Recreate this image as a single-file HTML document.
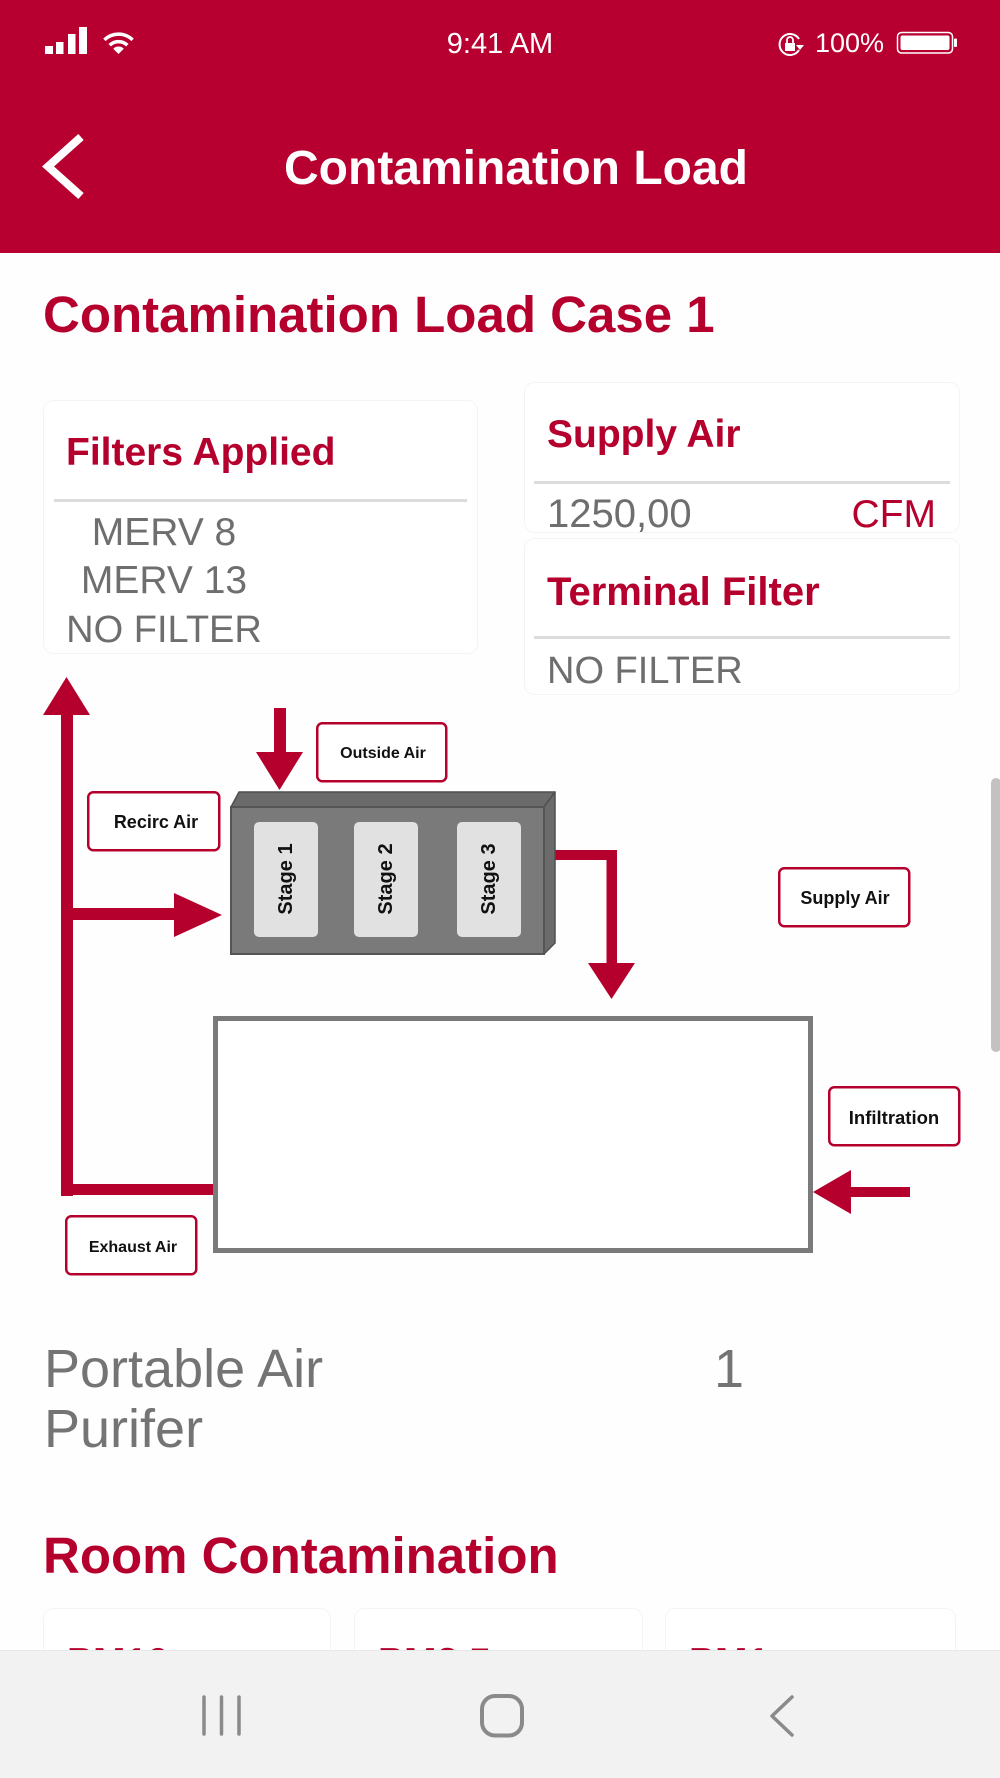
<!DOCTYPE html>
<html>
<head>
<meta charset="utf-8">
<style>
  html, body { margin: 0; padding: 0; background: #fefefe; }
  body { width: 1000px; height: 1778px; overflow: hidden; }
  svg { display: block; }
  text { font-family: "Liberation Sans", Arial, sans-serif; }
</style>
</head>
<body>
<svg width="1000" height="1778" viewBox="0 0 1000 1778" xmlns="http://www.w3.org/2000/svg">
  <!-- page background -->
  <rect x="0" y="0" width="1000" height="1778" fill="#fefefe"/>

  <!-- Header -->
  <rect x="0" y="0" width="1000" height="253" fill="#b70030"/>

  <!-- signal bars -->
  <rect x="45" y="46" width="8" height="8" fill="#fff"/>
  <rect x="56" y="42" width="7.5" height="12" fill="#fff"/>
  <rect x="68" y="34" width="7.5" height="20" fill="#fff"/>
  <rect x="79" y="27" width="8" height="27" fill="#fff"/>
  <!-- wifi -->
  <path d="M104.4 39.9 A20 20 0 0 1 132.6 39.9" fill="none" stroke="#fff" stroke-width="3.5"/>
  <path d="M109.7 45.2 A12.5 12.5 0 0 1 127.3 45.2" fill="none" stroke="#fff" stroke-width="3.5"/>
  <path d="M118.5 54 L113.2 48.7 A7.5 7.5 0 0 1 123.8 48.7 Z" fill="#fff"/>

  <text x="500" y="53" font-size="29" fill="#fff" text-anchor="middle">9:41 AM</text>

  <!-- rotation lock icon -->
  <path d="M799 39 A10.5 10.5 0 1 0 799 50" fill="none" stroke="#fff" stroke-width="2"/>
  <polygon points="796,45 804,45 800,50" fill="#fff"/>
  <rect x="785" y="43" width="10" height="8" fill="#fff"/>
  <path d="M787 43 V40 A3 3 0 0 1 793 40 V43" fill="none" stroke="#fff" stroke-width="1.8"/>
  <text x="815" y="52" font-size="27" fill="#fff">100%</text>
  <!-- battery -->
  <rect x="897.5" y="32.5" width="55" height="20.5" rx="4" fill="none" stroke="#fff" stroke-width="1.5"/>
  <rect x="900.5" y="35.5" width="49" height="14.5" rx="2" fill="#fff"/>
  <rect x="954" y="38.5" width="3" height="8.5" rx="1" fill="#fff"/>

  <!-- back chevron -->
  <polyline points="81,137 48,166.5 81,196" fill="none" stroke="#fff" stroke-width="8"/>
  <text x="516" y="184" font-size="48" font-weight="bold" fill="#fff" text-anchor="middle">Contamination Load</text>

  <!-- Section title -->
  <text x="43" y="332" font-size="51" font-weight="bold" fill="#b5002e">Contamination Load Case 1</text>

  <!-- Left card -->
  <rect x="43.5" y="400.5" width="434" height="253" rx="10" fill="#fff" stroke="#f4f4f4" stroke-width="1"/>
  <text x="66" y="465" font-size="39" font-weight="bold" fill="#b5002e">Filters Applied</text>
  <rect x="54" y="499" width="413" height="3" fill="#dcdcdc"/>
  <text x="164" y="545" font-size="39" fill="#6e6e6e" text-anchor="middle">MERV 8</text>
  <text x="164" y="593" font-size="39" fill="#6e6e6e" text-anchor="middle">MERV 13</text>
  <text x="164" y="642" font-size="38" fill="#6e6e6e" text-anchor="middle">NO FILTER</text>

  <!-- Right card 1 -->
  <rect x="524.5" y="382.5" width="435" height="150" rx="10" fill="#fff" stroke="#f4f4f4" stroke-width="1"/>
  <text x="547" y="447" font-size="39" font-weight="bold" fill="#b5002e">Supply Air</text>
  <rect x="534" y="481" width="416" height="3" fill="#dcdcdc"/>
  <text x="547" y="527" font-size="40" fill="#6e6e6e">1250,00</text>
  <text x="936" y="527" font-size="39" fill="#b5002e" text-anchor="end">CFM</text>

  <!-- Right card 2 -->
  <rect x="524.5" y="538.5" width="435" height="156" rx="10" fill="#fff" stroke="#f4f4f4" stroke-width="1"/>
  <text x="547" y="605" font-size="40" font-weight="bold" fill="#b5002e">Terminal Filter</text>
  <rect x="534" y="636" width="416" height="3" fill="#dcdcdc"/>
  <text x="547" y="683" font-size="38" fill="#6e6e6e">NO FILTER</text>

  <!-- ===== Diagram ===== -->
  <!-- left vertical return line with up arrow -->
  <rect x="61" y="714" width="12" height="482" fill="#b5002e"/>
  <polygon points="43,715 90,715 66.5,677" fill="#b5002e"/>
  <!-- recirc branch to filter -->
  <rect x="61" y="908" width="115" height="12" fill="#b5002e"/>
  <polygon points="174,893 174,937 222,915" fill="#b5002e"/>
  <!-- exhaust horizontal -->
  <rect x="61" y="1184" width="153" height="11" fill="#b5002e"/>

  <!-- outside air arrow -->
  <rect x="274" y="708" width="12" height="46" fill="#b5002e"/>
  <polygon points="256,752 303,752 279.5,790" fill="#b5002e"/>

  <!-- supply arrow -->
  <rect x="555" y="850" width="62" height="10" fill="#b5002e"/>
  <rect x="606.5" y="850" width="10.5" height="115" fill="#b5002e"/>
  <polygon points="588,963 635,963 611.5,999" fill="#b5002e"/>

  <!-- infiltration arrow -->
  <polygon points="813,1192 851,1170 851,1214" fill="#b5002e"/>
  <rect x="850" y="1187" width="60" height="10" fill="#b5002e"/>

  <!-- room -->
  <rect x="215.5" y="1018.5" width="595" height="232" fill="#fff" stroke="#7a7a7a" stroke-width="5"/>

  <!-- filter unit 3D -->
  <polygon points="231,807 239,792 555,792 544,807" fill="#6b6b6b" stroke="#4f4f4f" stroke-width="1.5" stroke-linejoin="round"/>
  <polygon points="544,807 555,792 555,943 544,954" fill="#6b6b6b" stroke="#4f4f4f" stroke-width="1.5" stroke-linejoin="round"/>
  <rect x="231" y="807" width="313" height="147" fill="#7a7a7a" stroke="#555" stroke-width="2"/>
  <rect x="254" y="822" width="64" height="115" rx="5" fill="#e1e1e1"/>
  <rect x="354" y="822" width="64" height="115" rx="5" fill="#e1e1e1"/>
  <rect x="457" y="822" width="64" height="115" rx="5" fill="#e1e1e1"/>
  <text transform="translate(286,879) rotate(-90)" x="0" y="6" font-size="20" font-weight="bold" fill="#111" text-anchor="middle">Stage 1</text>
  <text transform="translate(386,879) rotate(-90)" x="0" y="6" font-size="20" font-weight="bold" fill="#111" text-anchor="middle">Stage 2</text>
  <text transform="translate(489,879) rotate(-90)" x="0" y="6" font-size="20" font-weight="bold" fill="#111" text-anchor="middle">Stage 3</text>

  <!-- labels -->
  <rect x="317.25" y="723.25" width="129" height="58" rx="5" fill="#fff" stroke="#b5002e" stroke-width="2.5"/>
  <text x="383" y="758" font-size="16" font-weight="bold" fill="#111" text-anchor="middle">Outside Air</text>

  <rect x="88.25" y="792.25" width="131" height="58" rx="5" fill="#fff" stroke="#b5002e" stroke-width="2.5"/>
  <text x="156" y="828" font-size="18" font-weight="bold" fill="#111" text-anchor="middle">Recirc Air</text>

  <rect x="779.25" y="868.25" width="130" height="58" rx="5" fill="#fff" stroke="#b5002e" stroke-width="2.5"/>
  <text x="845" y="904" font-size="18" font-weight="bold" fill="#111" text-anchor="middle">Supply Air</text>

  <rect x="829.25" y="1087.25" width="130" height="58" rx="5" fill="#fff" stroke="#b5002e" stroke-width="2.5"/>
  <text x="894" y="1124" font-size="18.5" font-weight="bold" fill="#111" text-anchor="middle">Infiltration</text>

  <rect x="66.25" y="1216.25" width="130" height="58" rx="5" fill="#fff" stroke="#b5002e" stroke-width="2.5"/>
  <text x="133" y="1252" font-size="16" font-weight="bold" fill="#111" text-anchor="middle">Exhaust Air</text>

  <!-- scroll indicator -->
  <rect x="991" y="778" width="10" height="274" rx="5" fill="#c2c2c2"/>

  <!-- Portable Air Purifer -->
  <text x="44" y="1387" font-size="54" fill="#747474">Portable Air</text>
  <text x="44" y="1447" font-size="54" fill="#747474">Purifer</text>
  <text x="729" y="1387" font-size="54" fill="#747474" text-anchor="middle">1</text>

  <!-- Room Contamination -->
  <text x="43" y="1573" font-size="51" font-weight="bold" fill="#b5002e">Room Contamination</text>
  <rect x="43.5" y="1608.5" width="287" height="200" rx="10" fill="#fff" stroke="#f4f4f4" stroke-width="1"/>
  <rect x="354.5" y="1608.5" width="288" height="200" rx="10" fill="#fff" stroke="#f4f4f4" stroke-width="1"/>
  <rect x="665.5" y="1608.5" width="290" height="200" rx="10" fill="#fff" stroke="#f4f4f4" stroke-width="1"/>
  <text x="67" y="1675" font-size="39" font-weight="bold" fill="#b5002e">PM10</text>
  <text x="378" y="1675" font-size="39" font-weight="bold" fill="#b5002e">PM2.5</text>
  <text x="689" y="1675" font-size="39" font-weight="bold" fill="#b5002e">PM1</text>

  <!-- Bottom nav bar -->
  <rect x="0" y="1650" width="1000" height="128" fill="#f2f2f2"/>
  <rect x="0" y="1650" width="1000" height="1" fill="#e8e8e8"/>
  <line x1="204" y1="1697" x2="204" y2="1734" stroke="#8a8a8a" stroke-width="3.5" stroke-linecap="round"/>
  <line x1="221.5" y1="1697" x2="221.5" y2="1734" stroke="#8a8a8a" stroke-width="3.5" stroke-linecap="round"/>
  <line x1="239" y1="1697" x2="239" y2="1734" stroke="#8a8a8a" stroke-width="3.5" stroke-linecap="round"/>
  <rect x="482" y="1696" width="40" height="39.5" rx="13" fill="none" stroke="#8a8a8a" stroke-width="4"/>
  <polyline points="792,1697 772,1716 792,1735" fill="none" stroke="#8a8a8a" stroke-width="3.5" stroke-linecap="round" stroke-linejoin="round"/>
</svg>
</body>
</html>
